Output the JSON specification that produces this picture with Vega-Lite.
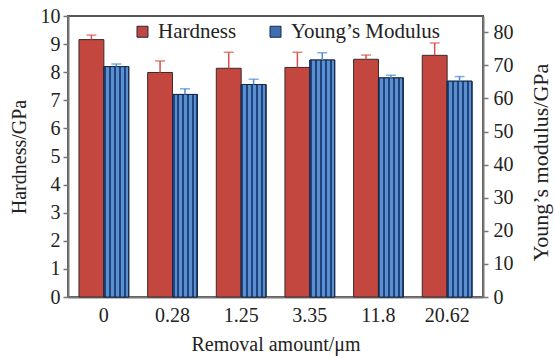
{
  "$schema": "https://vega.github.io/schema/vega-lite/v6.json",
  "width": 415,
  "height": 281,
  "autosize": {"type": "none"},
  "padding": {"left": 68, "top": 16, "right": 72, "bottom": 61},
  "background": "white",
  "config": {
    "font": "Liberation Serif",
    "view": {"stroke": "#555555", "strokeWidth": 2},
    "axis": {"labelFont": "Liberation Serif", "titleFont": "Liberation Serif", "labelFontSize": 20, "titleFontSize": 20, "titleFontWeight": "normal", "labelColor": "#222222", "titleColor": "#222222", "grid": false, "domainColor": "#777777", "domainWidth": 2, "tickColor": "#777777", "tickWidth": 1.5, "tickSize": 5},
    "legend": {"labelFont": "Liberation Serif", "labelFontSize": 21, "labelColor": "#222222"}
  },
  "data": {
    "values": [
      {"amount": "0", "series": "Hardness", "value": 9.16, "hi": 9.32},
      {"amount": "0.28", "series": "Hardness", "value": 7.99, "hi": 8.4},
      {"amount": "1.25", "series": "Hardness", "value": 8.14, "hi": 8.71},
      {"amount": "3.35", "series": "Hardness", "value": 8.17, "hi": 8.71},
      {"amount": "11.8", "series": "Hardness", "value": 8.46, "hi": 8.61},
      {"amount": "20.62", "series": "Hardness", "value": 8.6, "hi": 9.04},
      {"amount": "0", "series": "Young’s Modulus", "value": 69.6, "hi": 70.4},
      {"amount": "0.28", "series": "Young’s Modulus", "value": 61.2, "hi": 62.9},
      {"amount": "1.25", "series": "Young’s Modulus", "value": 64.2, "hi": 65.8},
      {"amount": "3.35", "series": "Young’s Modulus", "value": 71.6, "hi": 73.8},
      {"amount": "11.8", "series": "Young’s Modulus", "value": 66.2, "hi": 67.0},
      {"amount": "20.62", "series": "Young’s Modulus", "value": 65.2, "hi": 66.6}
    ]
  },
  "encoding": {
    "x": {
      "field": "amount", "type": "nominal", "sort": ["0", "0.28", "1.25", "3.35", "11.8", "20.62"],
      "scale": {"paddingInner": 0.275, "paddingOuter": 0.16},
      "axis": {"title": "Removal amount/μm", "labelAngle": 0, "ticks": false, "labelPadding": 8, "titlePadding": 9}
    },
    "xOffset": {"field": "series", "type": "nominal", "scale": {"domain": ["Hardness", "Young’s Modulus"], "paddingInner": 0, "paddingOuter": 0}}
  },
  "layer": [
    {
      "transform": [{"filter": "datum.series === 'Hardness'"}],
      "encoding": {
        "y": {"field": "value", "type": "quantitative", "scale": {"domain": [0, 10], "nice": false}, "axis": {"title": "Hardness/GPa", "orient": "left", "values": [0,1,2,3,4,5,6,7,8,9,10], "labelPadding": 3, "titlePadding": 11}}
      },
      "layer": [
        {
          "mark": {"type": "bar", "stroke": "#3a2a2a", "strokeWidth": 1},
          "encoding": {
            "color": {"field": "series", "type": "nominal", "scale": {"domain": ["Hardness", "Young’s Modulus"], "range": ["#c4473f", "#3f6fb0"]},
              "legend": {"title": null, "orient": "none", "legendX": 64, "legendY": 5, "direction": "horizontal", "symbolType": "square", "symbolSize": 121, "symbolStrokeColor": "#333333", "symbolStrokeWidth": 1, "columnPadding": 28, "labelOffset": 5}}
          }
        },
        {
          "mark": {"type": "rule", "color": "#d9504a", "strokeWidth": 1.5},
          "encoding": {"y2": {"field": "hi"}}
        },
        {
          "mark": {"type": "tick", "color": "#d9504a", "thickness": 1.5, "size": 10},
          "encoding": {"y": {"field": "hi", "type": "quantitative"}}
        }
      ]
    },
    {
      "transform": [{"filter": "datum.series !== 'Hardness'"}],
      "encoding": {
        "y": {"field": "value", "type": "quantitative", "scale": {"domain": [0, 84.9], "nice": false}, "axis": {"title": "Young’s modulus/GPa", "orient": "right", "titleAngle": 270, "titleBaseline": "middle", "titleX": 57, "titleY": 146, "titleAlign": "center", "titleFontSize": 22, "values": [0,10,20,30,40,50,60,70,80], "labelPadding": 5}}
      },
      "layer": [
        {
          "mark": {"type": "bar", "stroke": "#1a2a44", "strokeWidth": 1},
          "encoding": {"color": {"field": "series", "type": "nominal"}}
        },
        {
          "mark": {"type": "bar", "stroke": "#1a2a44", "strokeWidth": 1,
            "color": {"gradient": "linear", "x1": 0, "x2": 1, "y1": 0, "y2": 0, "stops": [
              {"offset": 0, "color": "#1f4580"}, {"offset": 0.08, "color": "#1f4580"},
              {"offset": 0.08, "color": "#5b8fd0"}, {"offset": 0.2, "color": "#5b8fd0"},
              {"offset": 0.2, "color": "#1f4580"}, {"offset": 0.28, "color": "#1f4580"},
              {"offset": 0.28, "color": "#5b8fd0"}, {"offset": 0.4, "color": "#5b8fd0"},
              {"offset": 0.4, "color": "#1f4580"}, {"offset": 0.48, "color": "#1f4580"},
              {"offset": 0.48, "color": "#5b8fd0"}, {"offset": 0.6, "color": "#5b8fd0"},
              {"offset": 0.6, "color": "#1f4580"}, {"offset": 0.68, "color": "#1f4580"},
              {"offset": 0.68, "color": "#5b8fd0"}, {"offset": 0.8, "color": "#5b8fd0"},
              {"offset": 0.8, "color": "#1f4580"}, {"offset": 0.88, "color": "#1f4580"},
              {"offset": 0.88, "color": "#5b8fd0"}, {"offset": 0.96, "color": "#5b8fd0"},
              {"offset": 0.96, "color": "#1f4580"}, {"offset": 1, "color": "#1f4580"}
            ]}
          },
          "encoding": {}
        },
        {
          "mark": {"type": "rule", "color": "#4a8ad6", "strokeWidth": 1.5},
          "encoding": {"y2": {"field": "hi"}}
        },
        {
          "mark": {"type": "tick", "color": "#4a8ad6", "thickness": 1.5, "size": 10},
          "encoding": {"y": {"field": "hi", "type": "quantitative"}}
        }
      ]
    }
  ],
  "resolve": {"scale": {"y": "independent"}, "axis": {"y": "independent"}}
}
